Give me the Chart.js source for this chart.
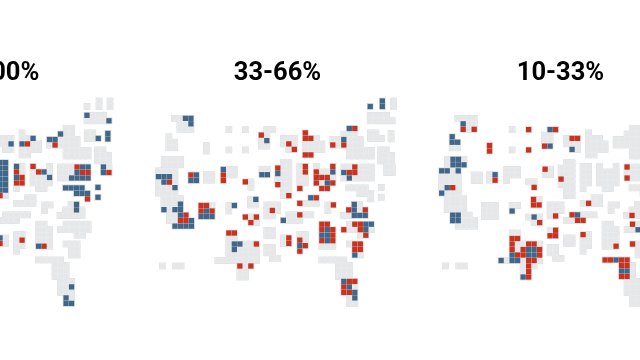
<!DOCTYPE html>
<html>
<head>
<meta charset="utf-8">
<script src="https://cdn.jsdelivr.net/npm/chart.js@4"></script>
<style>
  html, body { margin: 0; padding: 0; background: #fff; }
  #wrap { position: relative; width: 640px; height: 360px; overflow: hidden; }
  #map { filter: blur(0.35px); }
  .panel-title {
    position: absolute; top: 56px; width: 200px; margin-left: -100px;
    text-align: center; color: #000; white-space: nowrap;
    font: bold 25.5px Roboto, sans-serif;
  }
</style>
</head>
<body>
<div id="wrap"><canvas id="map" width="640" height="360"></canvas></div>
<script>
const panelTitles = ["66-100%", "33-66%", "10-33%"];
const panelShifts = [-51.5, 0, 51.5];
const titleCentres = [-11.7, 277.5, 560.5];

// base map: [row, first column, number of cells]
const mapRuns = [
  [3.15,2.2,4],[4.15,3.2,3],[5.15,3.2,3],
  [6.5,1.2,1],[7.5,1.2,2],[8.5,1.2,2],
  [8.1,8,1],[9.1,8,1],
  [5.2,12.1,1],[5.2,15.1,1],[8.9,12.1,1],[8.9,15.1,1],
  [5.2,19,2],[6.2,18,2],[7.2,18,2],[8.2,18,2],
  [10.6,0.35,4],[11.6,0.35,4],
  [12.7,-0.7,4],[13.75,-0.7,4],[14.75,-0.7,4],[15.75,-0.7,4],[16.75,-0.7,4],
  [17.75,0.3,4],[18.75,0.3,4],[19.75,0.3,4],[20.75,1.3,4],[21.75,1.3,5],[22.75,2.3,4],
  [13.45,5.2,2],[14.45,5.2,2],
  [13.4,8,2],[14.4,8,2],
  [12.45,11.1,3],[13.45,11.1,3],[14.45,11.1,1],
  [14.7,15.1,2],[15.7,16.1,1],
  [12.4,18.1,2],[13.4,18.1,2],
  [17.9,16,2],[18.9,16,2],
  [19,7.05,3],[20,7.05,3],[21,7.05,3],
  [19,12.1,2],[20,12.1,1],
  [21.1,15.1,3],[22.1,16.1,2],
  [24,12.1,2],[25,12.1,2],[26,12.1,6],[27,12.1,6],[28,12.1,6],[29,10.1,8],
  [30,14.1,3],[31,14.1,2],[32,14.1,2],
  [30,0,1],[30,2.4,2],
  [18.9,19,3],[19.9,19,3],[20.9,19,2],
  [23.5,19,2],[24.5,19,2],
  [26.6,19,2],[27.6,19,2],[28.6,20,2],
  [6.8,22,3],[7.8,22,3],[8.8,23,2],
  [5.8,26,1],[6.8,26,3],[7.8,26,4],[8.8,26,4],[9.8,26,2],
  [7,31,2],[8,31,2],
  [5,34,2],[6,33,3],[7,33,4],[8,33,4],[9,34,5],[10,34,5],
  [1,37.8,1],[0,40,1],[1,40,1],[0,42,1],[1,42,1],
  [2.6,37.8,4],[3.6,37.8,5],
  [5.8,37.85,2],[6.8,37.85,3],
  [5.9,41.6,1],[6.9,41.6,1],
  [8.9,39.7,2],[9.9,39.7,3],[10.9,39.7,3],
  [12,40.8,2],[13,40.8,2],
  [11.2,22,2],[12.2,21,3],[13.2,21,3],[14.2,21,3],[15.2,21,3],[16.2,22,2],[17.2,22,2],
  [11.9,25,2],[12.9,25,2],[13.9,25,2],[14.9,25,2],[15.9,25,1],
  [11.9,28,1],[11.9,31,1],[12.9,28,4],[13.9,28,4],[14.9,28,4],[15.9,29,2],
  [12,33,6],[13,33,6],[14,33,6],
  [15.8,33.9,4],[16.8,35.9,3],[17.8,37.9,1],
  [15.7,39.8,1],[17.5,39.8,1],
  [17.6,27,2],[18.6,25,4],
  [18.9,30.1,2],[19.9,30.1,1],
  [18.8,34.9,2],[19.8,33.9,4],[20.8,32.9,5],
  [20.7,23,5],[21.7,22,4],
  [22.4,34,5],[23.4,33,6],[24.4,36,2],
  [22.4,29,2],[23.4,29,3],[24.4,29,3],[25.4,29,3],[26.4,29,3],
  [24.9,22,2],[25.9,22,2],
  [24.3,25,2],[25.3,25,2],[26.3,25,2],[27.3,25,1],
  [26,34,3],[27,35,2],[28,35,2],
  [28.9,29,5],[29.9,32,3],[30.9,32,3],[31.9,32,3],
  [32.8,33,3],[33.8,33,3],[34.8,33,3],[35.8,34,2],[36.8,34,2]
];

// coloured cells per panel: [column, row]
const blue66 = [
  [24,7.8],[26,7.8],[28,6.8],[31,7],[32,7],[33,6],[37.8,2.6],[41.8,3.6],[39.85,6.8],
  [41.6,5.9],[41.6,6.9],[40.8,12],[40.8,13],
  [22,11.2],[23,11.2],[22,12.2],[23,12.2],[22,13.2],[23,13.2],[22,14.2],[23,14.2],
  [22,15.2],[23,15.2],[22,16.2],[23,16.2],
  [25,11.9],[25,13.9],[30,12.9],[31,13.9],
  [37,12],[38,12],[36,13],[35,14],[36,14],[37,14],[38,14],
  [33.9,15.8],[34.9,15.8],[35.9,15.8],[36.9,15.8],[35.9,16.8],[36.9,16.8],[37.9,16.8],
  [39.8,15.7],[39.8,17.5],[35.9,18.8],[35.9,19.8],[22,24.9],[29,26.4],
  [35,33.8],[34,35.8],[34,36.8],[35,36.8]
];
const red66 = [
  [27,7.8],[32,8],[22,17.2],[25,12.9],[26,13.9],[25,14.9],[26,14.9],[28,11.9],[29,12.9],
  [36,12],[37,13],[38,13],[37.9,17.8],[41.8,13],[26,25.3],[22,25.9],[30,26.4]
];
const blue33 = [
  [4.2,3.15],[5.2,3.15],[5.2,4.15],
  [-0.7,13.75],[0.3,13.75],[1.3,13.75],[0.3,14.75],[2.3,15.75],
  [3.3,18.75],[0.3,19.75],[2.3,19.75],[3.3,19.75],[3.3,20.75],[5.3,21.75],
  [2.3,22.75],[3.3,22.75],[4.3,22.75],[5.3,22.75],
  [6.2,13.45],[5.2,14.45],[6.2,14.45],[11.1,12.45],[19,7.2],[18.1,13.4],[19.1,13.4],
  [8.05,20],[7.05,21],[8.05,21],[9.05,21],[13.1,19],[17,17.9],
  [13.1,26],[14.1,26],[13.1,27],[37.8,1],[40,0],[40,1],[34,5],[33,7],[33,13],[34,14],
  [21,13.2],[31,12.9],[30,14.9],[27,17.6],[22,21.7],
  [34.9,18.8],[34.9,19.8],[34.9,20.8],[35.9,20.8],[36.9,20.8],
  [37,22.4],[38,22.4],[37,23.4],
  [30,23.4],[29,24.4],[30,24.4],[30,25.4],[25,26.3],[35,28],
  [33,32.8],[34,33.8],[35,34.8],[35,35.8]
];
const red33 = [
  [1.3,14.75],[4.3,20.75],[3.3,21.75],[4.3,21.75],[5.2,13.45],[11.1,13.45],[11.1,14.45],
  [15.1,14.7],[18,6.2],
  [7.05,19],[8.05,19],[7.05,20],[9.05,20],
  [15.1,21.1],[17.1,21.1],[16.1,22.1],
  [12.1,24],[13.1,24],[17.1,26],[14.1,30],[16.1,30],[20,19.9],
  [23,7.8],[24,8.8],[26,5.8],[26,6.8],[27,6.8],[26,9.8],[27,9.8],
  [31,8],[35,5],[33,8],[21,12.2],[21,15.2],[23,17.2],[26,11.9],[26,12.9],[25,15.9],
  [31,11.9],[28,12.9],[28,13.9],[29,13.9],[30,13.9],[28,14.9],[31,14.9],[29,15.9],[30,15.9],
  [35,12],[34,13],[35,13],[28,17.6],[25,18.6],[31.1,18.9],[33.9,19.8],[36.9,19.8],[25,20.7],
  [35,22.4],[36,22.4],[36,23.4],[37,24.4],[33,23.4],
  [29,22.4],[30,22.4],[29,23.4],[31,23.4],[31,24.4],[29,25.4],[31,25.4],
  [25,25.3],[26,26.3],[25,27.3],[23,24.9],[23,25.9],
  [35,26],[36,26],[35,27],[36,27],
  [34,32.8],[35,32.8],[33,33.8],[33,34.8],[34,34.8]
];
const blue10 = [
  [3.2,4.15],[1.2,6.5],[1.2,7.5],[2.2,7.5],
  [1.35,10.6],[2.35,10.6],[1.35,11.6],[2.35,11.6],[3.35,11.6],[-0.7,12.7],[0.3,12.7],[2.3,12.7],
  [0.3,15.75],[-0.7,16.75],[9,13.4],
  [1.3,20.75],[2.3,20.75],[1.3,21.75],[2.3,21.75],[12.1,20],[16.1,21.1],
  [15.1,27],[16.1,27],[12.1,28],[15.1,28],[16.1,28],[10.1,29],[12.1,29],[13.1,29],[14.1,32],
  [19,5.2],[19,8.2],[23,8.8],[24,20.7],[31,28.9],[32,30.9],[33,30.9],[35,23.4]
];
const red10 = [
  [3.2,5.15],[5.2,5.15],[8,8.1],[8,9.1],[15.1,5.2],[15.1,8.9],[1.3,15.75],[9,14.4],
  [16.1,15.7],[18.1,12.4],[16,17.9],[16,18.9],[17,18.9],[17.1,22.1],
  [12.1,25],[13.1,25],[12.1,26],[15.1,26],[16.1,26],[12.1,27],[14.1,27],[17.1,27],
  [13.1,28],[14.1,28],[17.1,28],[15.1,29],[16.1,29],[15.1,30],[15.1,31],[15.1,32],
  [20,20.9],[20,23.5],[19,24.5],[20,24.5],[20,5.2],[18,8.2],[23,6.8],[24,6.8],[21,14.2],
  [26,18.6],[33,12],[33,14],[23,20.7],[24,21.7],[25,21.7],[31,26.4],[25,24.3],
  [33.9,20.8],[34,22.4],[34,26],
  [29,28.9],[30,28.9],[32,28.9],[33,28.9],[32,29.9],[33,29.9],[32,31.9],[33,31.9]
];

const BLUE = "#40668a";
const RED = "#c8321f";

// expand the runs into one list of map cells
const mapCells = [];
mapRuns.forEach(([row, col, n]) => {
  for (let i = 0; i < n; i++) mapCells.push([col + i, row]);
});

function shifted(cells, shift) {
  return cells.map(([x, y]) => ({ x: x + shift, y: y }));
}

// chart.js paints the first dataset last, so "order" puts the outline at the bottom
function cellLayer(points, color, side, order) {
  return {
    data: points,
    order: order,
    pointStyle: "rect",
    pointRadius: side / Math.SQRT2,
    pointBackgroundColor: color,
    pointBorderWidth: 0,
    showLine: false,
  };
}

const allMap = panelShifts.flatMap((s) => shifted(mapCells, s));

new Chart(document.getElementById("map"), {
  type: "scatter",
  data: {
    datasets: [
      cellLayer(allMap, "#d8d9db", 6.7, 3),
      cellLayer(allMap, "#eeeff0", 5.7, 2),
      cellLayer(allMap, "#e6e7e9", 4.9, 1),
      cellLayer(shifted(blue66, panelShifts[0]), BLUE, 5.3, 0),
      cellLayer(shifted(red66, panelShifts[0]), RED, 5.3, 0),
      cellLayer(shifted(blue33, panelShifts[1]), BLUE, 5.3, 0),
      cellLayer(shifted(red33, panelShifts[1]), RED, 5.3, 0),
      cellLayer(shifted(blue10, panelShifts[2]), BLUE, 5.3, 0),
      cellLayer(shifted(red10, panelShifts[2]), RED, 5.3, 0),
    ],
  },
  options: {
    responsive: false,
    animation: false,
    events: [],
    layout: { padding: 0, autoPadding: false },
    plugins: { legend: { display: false }, tooltip: { enabled: false } },
    scales: {
      x: { type: "linear", display: false, min: -29.51, max: 86.85 },
      y: { type: "linear", display: false, reverse: true, min: -18.364, max: 47.09 },
    },
  },
});

// panel headings, centred over each map
const wrap = document.getElementById("wrap");
panelTitles.forEach((t, i) => {
  const el = document.createElement("div");
  el.className = "panel-title";
  el.textContent = t;
  el.style.left = titleCentres[i] + "px";
  wrap.appendChild(el);
});
</script>
</body>
</html>
